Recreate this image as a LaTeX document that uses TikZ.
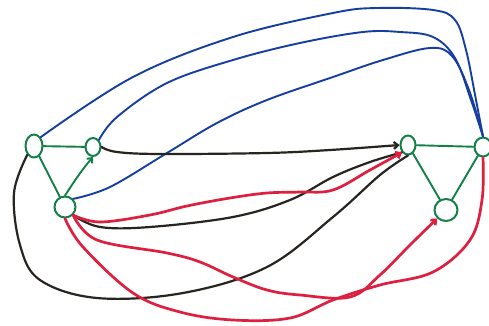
\documentclass[tikz,border=0pt]{standalone}
\usetikzlibrary{arrows.meta,shapes.geometric}
\definecolor{gr}{RGB}{20,128,72}
\definecolor{bl}{RGB}{22,62,160}
\definecolor{bk}{RGB}{40,36,32}
\definecolor{rd}{RGB}{222,32,64}
\tikzset{
  vert/.style={draw=gr,line width=2pt,ellipse,inner sep=0pt,fill=white},
  gedge/.style={draw=gr,line width=1.9pt},
  bedge/.style={draw=bl,line width=1.9pt},
  kedge/.style={draw=bk,line width=2.2pt},
  redge/.style={draw=rd,line width=2.7pt},
  tip/.style={-{Straight Barb[length=4pt,width=7pt]}},
}
\begin{document}
\begin{tikzpicture}[x=1pt,y=-1pt,line cap=round,line join=round]
\clip (0,0) rectangle (489,326);
\fill[white] (0,0) rectangle (489,326);
% vertices
\node[vert,minimum width=17pt,minimum height=23pt] (A) at (34,146) {};
\node[vert,minimum width=15pt,minimum height=18pt] (B) at (93,147) {};
\node[vert,minimum width=21pt,minimum height=21pt] (C) at (65,207) {};
\node[vert,minimum width=15pt,minimum height=19pt] (D) at (408,145) {};
\node[vert,minimum width=17pt,minimum height=19pt] (E) at (483,147) {};
\node[vert,minimum width=23pt,minimum height=22pt] (F) at (446,210) {};
% blue edges
\draw[bedge] plot[smooth,tension=0.6] coordinates {(A.north east) (133,77) (233,37) (333,13) (377,8) (433,10) (455,20) (466,50) (476,100) (E.north)};
\draw[bedge] plot[smooth,tension=0.6] coordinates {(B.north east) (117,117) (167,83) (233,60) (300,43) (363,32) (400,32) (433,37) (455,58) (471,100) (E.north)};
\draw[bedge] plot[smooth,tension=0.6] coordinates {(C.north east) (110,187) (167,153) (217,123) (267,100) (333,77) (383,60) (430,48) (452,56) (469,90) (E.north)};
% black edges
\draw[kedge,tip] plot[smooth,tension=0.6] coordinates {(B.east) (117,152) (160,154) (267,153) (330,150) (D.west)};
\draw[kedge] plot[smooth,tension=0.6] coordinates {(C.south east) (100,227) (150,227) (233,217) (290,200) (333,177) (370,162) (D.south west)};
\draw[kedge] plot[smooth,tension=0.6] coordinates {(A.south west) (14,193) (20,245) (40,280) (97,298) (183,293) (267,267) (333,217) (380,175) (D.south)};
% red edges
\draw[redge,tip] plot[smooth,tension=0.6] coordinates {(C.south east) (100,222) (150,215) (187,206) (230,198) (267,193) (300,192) (333,190) (370,170) (D.south west)};
\draw[redge,tip] plot[smooth,tension=0.6] coordinates {(C.south east) (97,240) (167,253) (200,262) (233,277) (267,290) (300,295) (350,297) (380,275) (410,245) (F.south west)};
\draw[redge] plot[smooth,tension=0.6] coordinates {(C.south) (83,247) (133,293) (180,312) (233,320) (290,318) (333,300) (380,285) (433,272) (470,240) (482,200) (E.south)};
% green edges
\draw[gedge] (A) -- (B);
\draw[gedge] (A) -- (C);
\draw[gedge,tip] (C.north) .. controls (72,185) and (80,172) .. (B.south);
\draw[gedge] (D) -- (E);
\draw[gedge] (D) -- (F);
\draw[gedge] (F) -- (E);
\end{tikzpicture}
\end{document}
